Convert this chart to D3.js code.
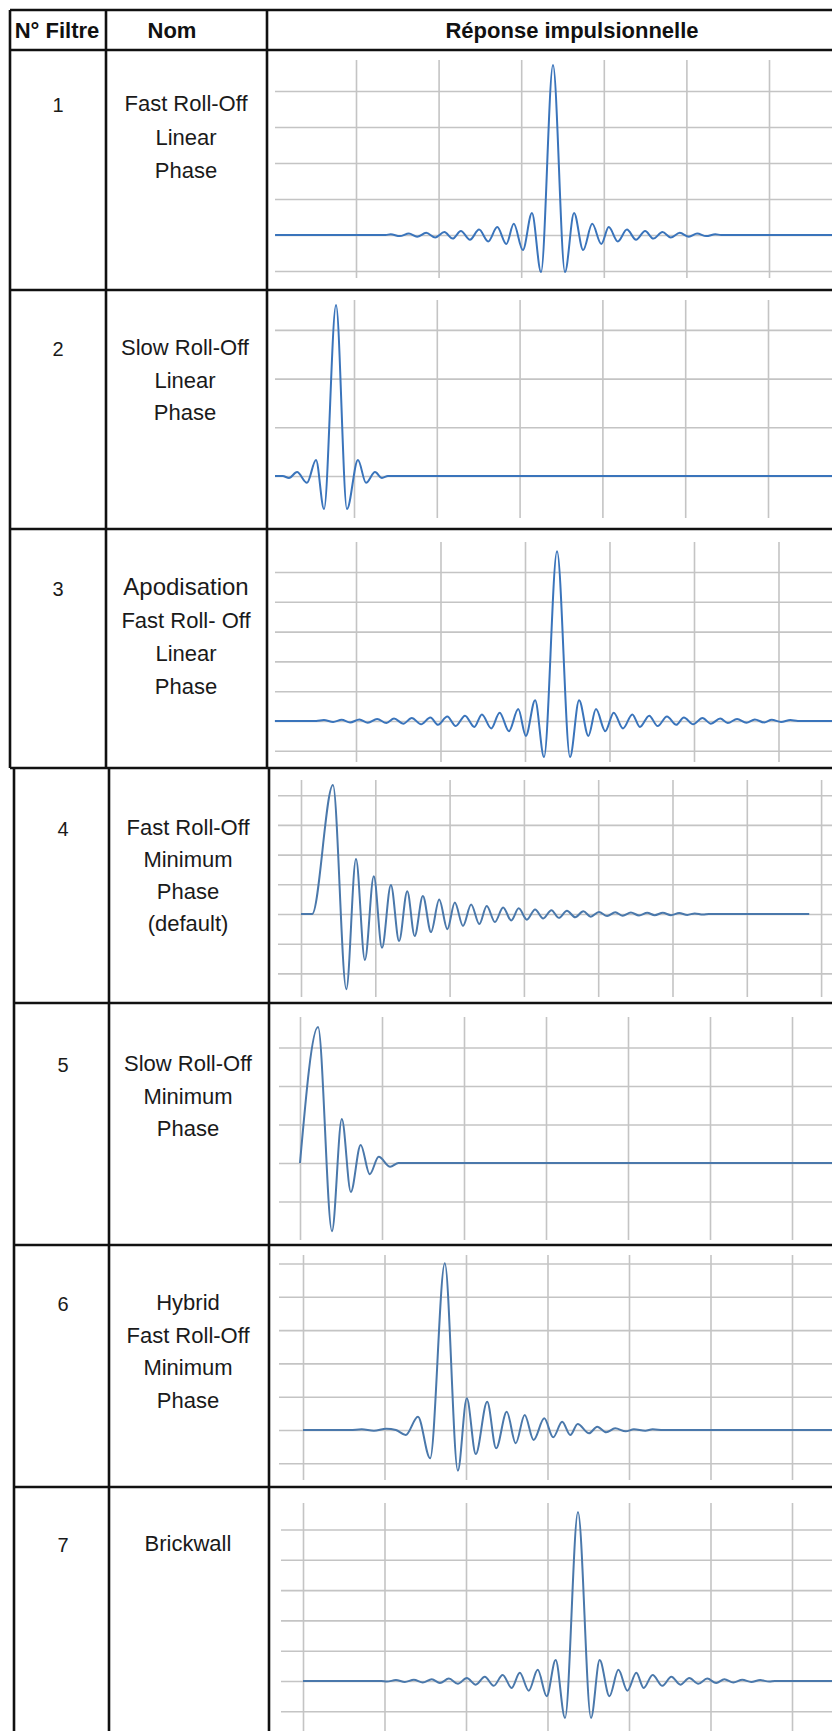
<!DOCTYPE html>
<html><head><meta charset="utf-8">
<script src="https://cdn.jsdelivr.net/npm/d3@7"></script>
<style>body{margin:0;background:#fff}svg{display:block}</style>
</head><body>
<svg id="chart" width="832" height="1731"></svg>
<script>
// ---------- DATA ----------
const headerLabels = ["N° Filtre", "Nom", "Réponse impulsionnelle"];
const filterNumbers = ["1", "2", "3", "4", "5", "6", "7"];
const filterNames = [
  ["Fast Roll-Off", "Linear", "Phase"],
  ["Slow Roll-Off", "Linear", "Phase"],
  ["Apodisation", "Fast Roll- Off", "Linear", "Phase"],
  ["Fast Roll-Off", "Minimum", "Phase", "(default)"],
  ["Slow Roll-Off", "Minimum", "Phase"],
  ["Hybrid", "Fast Roll-Off", "Minimum", "Phase"],
  ["Brickwall"]
];
// impulse responses: [time in grid divisions, amplitude in grid divisions]
const response1 = [[-0.98,0],[0.36,0],[0.42,0.02],[0.53,-0.03],[0.64,0.04],[0.74,-0.05],[0.85,0.06],[0.96,-0.07],[1.07,0.08],[1.17,-0.10],[1.27,0.11],[1.38,-0.13],[1.49,0.15],[1.60,-0.18],[1.71,0.22],[1.82,-0.25],[1.91,0.31],[2.02,-0.42],[2.13,0.61],[2.24,-1.03],[2.385,4.72],[2.53,-1.03],[2.64,0.61],[2.75,-0.42],[2.86,0.31],[2.97,-0.25],[3.06,0.22],[3.17,-0.18],[3.28,0.15],[3.39,-0.13],[3.50,0.11],[3.60,-0.10],[3.71,0.08],[3.81,-0.07],[3.92,0.06],[4.03,-0.05],[4.13,0.04],[4.24,-0.03],[4.35,0.02],[4.42,0],[5.8,0]];
const response2 = [[-0.954,0],[-0.86,0],[-0.785,-0.04],[-0.688,0.08],[-0.568,-0.14],[-0.459,0.33],[-0.362,-0.68],[-0.217,3.51],[-0.085,-0.68],[0.048,0.33],[0.145,-0.14],[0.254,0.08],[0.338,-0.04],[0.41,0],[5.8,0]];
const response3 = [[-0.96,0],[-0.47,0],[-0.38,0.03],[-0.27,-0.03],[-0.17,0.04],[-0.07,-0.05],[0.04,0.05],[0.14,-0.06],[0.25,0.07],[0.36,-0.07],[0.45,0.08],[0.56,-0.09],[0.66,0.10],[0.77,-0.11],[0.88,0.12],[0.97,-0.13],[1.08,0.15],[1.18,-0.17],[1.29,0.18],[1.40,-0.20],[1.49,0.22],[1.60,-0.25],[1.70,0.28],[1.81,-0.34],[1.92,0.40],[2.01,-0.50],[2.12,0.70],[2.225,-1.21],[2.379,5.70],[2.533,-1.21],[2.64,0.70],[2.75,-0.50],[2.84,0.40],[2.95,-0.34],[3.05,0.28],[3.16,-0.25],[3.27,0.22],[3.36,-0.20],[3.47,0.18],[3.57,-0.17],[3.68,0.15],[3.79,-0.13],[3.88,0.12],[3.99,-0.11],[4.10,0.10],[4.20,-0.09],[4.31,0.08],[4.40,-0.07],[4.51,0.07],[4.62,-0.06],[4.72,0.05],[4.83,-0.05],[4.92,0.04],[5.03,-0.03],[5.14,0.03],[5.23,0],[5.7,0]];
const response4 = [[0,0],[0.15,0],[0.43,4.34],[0.61,-2.53],[0.74,1.85],[0.86,-1.55],[0.98,1.27],[1.09,-1.14],[1.21,0.98],[1.32,-0.91],[1.43,0.77],[1.53,-0.74],[1.64,0.61],[1.75,-0.61],[1.86,0.49],[1.97,-0.51],[2.07,0.39],[2.18,-0.40],[2.29,0.32],[2.40,-0.34],[2.50,0.27],[2.61,-0.27],[2.72,0.22],[2.83,-0.22],[2.93,0.19],[3.04,-0.19],[3.15,0.15],[3.26,-0.15],[3.37,0.13],[3.47,-0.13],[3.58,0.11],[3.69,-0.11],[3.80,0.09],[3.90,-0.09],[4.01,0.07],[4.12,-0.07],[4.23,0.06],[4.33,-0.06],[4.44,0.05],[4.55,-0.05],[4.66,0.04],[4.76,-0.04],[4.87,0.04],[4.98,-0.04],[5.09,0.03],[5.20,-0.03],[5.30,0.02],[5.41,-0.02],[5.49,0],[6.84,0]];
const response5 = [[0,0],[0.22,3.53],[0.39,-1.77],[0.51,1.14],[0.62,-0.75],[0.74,0.47],[0.85,-0.29],[0.96,0.16],[1.10,-0.10],[1.20,0],[6.5,0]];
const response6 = [[0,0],[0.58,0],[0.72,0.02],[0.87,-0.02],[1.02,0.04],[1.14,0],[1.26,-0.15],[1.41,0.40],[1.56,-0.85],[1.74,5.01],[1.90,-1.22],[2.01,0.95],[2.12,-0.72],[2.26,0.85],[2.37,-0.55],[2.50,0.55],[2.61,-0.40],[2.72,0.45],[2.83,-0.30],[2.96,0.35],[3.07,-0.22],[3.18,0.25],[3.28,-0.15],[3.37,0.18],[3.51,-0.10],[3.61,0.10],[3.72,-0.07],[3.83,0.05],[3.96,-0.04],[4.06,0.02],[4.20,-0.02],[4.29,0.02],[4.42,0],[6.6,0]];
const response7 = [[0,0],[0.96,0],[1.03,-0.02],[1.14,0.03],[1.25,-0.03],[1.36,0.04],[1.47,-0.05],[1.58,0.06],[1.68,-0.07],[1.79,0.08],[1.90,-0.09],[2.01,0.10],[2.12,-0.12],[2.23,0.14],[2.34,-0.16],[2.45,0.20],[2.56,-0.23],[2.66,0.27],[2.77,-0.32],[2.88,0.37],[2.99,-0.50],[3.10,0.69],[3.215,-1.22],[3.374,5.58],[3.534,-1.22],[3.64,0.69],[3.76,-0.50],[3.87,0.37],[3.98,-0.32],[4.09,0.27],[4.18,-0.23],[4.29,0.20],[4.41,-0.16],[4.52,0.14],[4.63,-0.12],[4.74,0.10],[4.85,-0.09],[4.96,0.08],[5.07,-0.07],[5.17,0.06],[5.28,-0.05],[5.39,0.04],[5.50,-0.03],[5.61,0.03],[5.72,-0.02],[5.79,0],[6.6,0]];
const responses = [response1, response2, response3, response4, response5, response6, response7];
// grid tick values (divisions)
const verticalTicks = [[0,1,2,3,4,5],[0,1,2,3,4,5],[0,1,2,3,4,5],[0,1,2,3,4,5,6,7],[0,1,2,3,4,5,6],[0,1,2,3,4,5,6],[0,1,2,3,4,5,6]];
const horizontalTicks = [[-1,0,1,2,3,4],[0,1,2,3],[-1,0,1,2,3,4,5],[-2,-1,0,1,2,3,4],[-1,0,1,2,3],[-1,0,1,2,3,4,5],[-1,0,1,2,3,4,5]];

// ---------- LAYOUT ----------
const W = 832, H = 1731;
const tableTop = 10, headerBottom = 50;
const rowBounds = [[50,290],[290,529],[529,768],[768,1003],[1003,1245],[1245,1487],[1487,1731]];
const blocks = [
  {left: 10, col1: 106, col2: 267, top: 10, bottom: 768},
  {left: 14, col1: 109, col2: 269, top: 768, bottom: 1731}
];
const rowBlock = [0,0,0,1,1,1,1];
const numX = [58,58,58,63,63,63,63];
const nameX = [186,185,186,188,188,188,188];
const firstBaseline = [111,355,595,835,1071,1310,1551];
const lineGap = [33.5,32.5,33,32,32.5,32.5,32];
const panels = [
  {x0:356, dx:82.6, vTop:60,   vBottom:278,  gridLeft:275, base:235,  dy:36,   color:"#3a74bb"},
  {x0:354, dx:82.8, vTop:300,  vBottom:518,  gridLeft:275, base:476,  dy:48.7, color:"#3a74bb"},
  {x0:356, dx:84.5, vTop:542,  vBottom:762,  gridLeft:275, base:721,  dy:29.8, color:"#3a74bb"},
  {x0:301, dx:74.3, vTop:780,  vBottom:997,  gridLeft:278, base:914,  dy:29.7, color:"#4a78ab"},
  {x0:300, dx:82,   vTop:1017, vBottom:1240, gridLeft:279, base:1163, dy:38.5, color:"#4a78ab"},
  {x0:303, dx:81.5, vTop:1255, vBottom:1480, gridLeft:279, base:1430, dy:33.3, color:"#4a78ab"},
  {x0:303, dx:81.5, vTop:1503, vBottom:1731, gridLeft:281, base:1681, dy:30.3, color:"#4a78ab"}
];

const svg = d3.select("#chart");
svg.append("rect").attr("width", W).attr("height", H).attr("fill", "#fff");

// ---------- PANELS ----------
panels.forEach((p, i) => {
  const x = d3.scaleLinear().domain([0, 1]).range([p.x0, p.x0 + p.dx]);
  const y = d3.scaleLinear().domain([0, 1]).range([p.base, p.base - p.dy]);
  const g = svg.append("g").attr("class", "panel");

  const gx = g.append("g").attr("transform", `translate(0,${p.vBottom})`)
    .call(d3.axisBottom(x).tickValues(verticalTicks[i]).tickSize(-(p.vBottom - p.vTop)).tickFormat(""));
  gx.select(".domain").remove();
  gx.selectAll("line").attr("stroke", "#c4c4c4").attr("stroke-width", 1.6);

  const gy = g.append("g").attr("transform", `translate(${p.gridLeft},0)`)
    .call(d3.axisLeft(y).tickValues(horizontalTicks[i]).tickSize(-(W - p.gridLeft)).tickFormat(""));
  gy.select(".domain").remove();
  gy.selectAll("line").attr("stroke", "#c4c4c4").attr("stroke-width", 1.6);

  const line = d3.line().x(d => x(d[0])).y(d => y(d[1])).curve(d3.curveMonotoneX);
  g.append("path").datum(responses[i]).attr("d", line)
    .attr("fill", "none").attr("stroke", p.color).attr("stroke-width", 2)
    .attr("stroke-linejoin", "round");
});

// ---------- TABLE ----------
const tl = svg.append("g").attr("stroke", "#111").attr("stroke-width", 2.6).attr("fill", "none");
blocks.forEach(b => {
  [b.left, b.col1, b.col2].forEach(xv => {
    tl.append("line").attr("x1", xv).attr("x2", xv).attr("y1", b.top).attr("y2", b.bottom);
  });
});
tl.append("line").attr("x1", blocks[0].left).attr("x2", W).attr("y1", tableTop).attr("y2", tableTop);
tl.append("line").attr("x1", blocks[0].left).attr("x2", W).attr("y1", headerBottom).attr("y2", headerBottom);
rowBounds.slice(1).forEach((r, i) => {
  const b = blocks[rowBlock[i + 1]];
  const left = i + 1 === 3 ? blocks[0].left : b.left;
  tl.append("line").attr("x1", left).attr("x2", W).attr("y1", r[0]).attr("y2", r[0]);
});

// header text
const hx = [57, 172, 572];
svg.append("g").selectAll("text").data(headerLabels).join("text")
  .attr("x", (d, i) => hx[i]).attr("y", 38)
  .attr("text-anchor", "middle")
  .attr("font-family", "'Liberation Sans', Arial, sans-serif")
  .attr("font-weight", "bold").attr("font-size", 22).attr("fill", "#111")
  .text(d => d);

// row numbers
svg.append("g").selectAll("text").data(filterNumbers).join("text")
  .attr("x", (d, i) => numX[i]).attr("y", (d, i) => firstBaseline[i] + 1)
  .attr("text-anchor", "middle")
  .attr("font-family", "'Liberation Sans', Arial, sans-serif")
  .attr("font-size", 20).attr("fill", "#1a1a1a")
  .text(d => d);

// names
filterNames.forEach((lines, i) => {
  svg.append("g").selectAll("text").data(lines).join("text")
    .attr("x", nameX[i]).attr("y", (d, j) => firstBaseline[i] + j * lineGap[i])
    .attr("text-anchor", "middle")
    .attr("font-family", "'Liberation Sans', Arial, sans-serif")
    .attr("font-size", d => d === "Apodisation" ? 24 : 22)
    .attr("fill", "#1a1a1a")
    .text(d => d);
});
</script>
</body></html>
